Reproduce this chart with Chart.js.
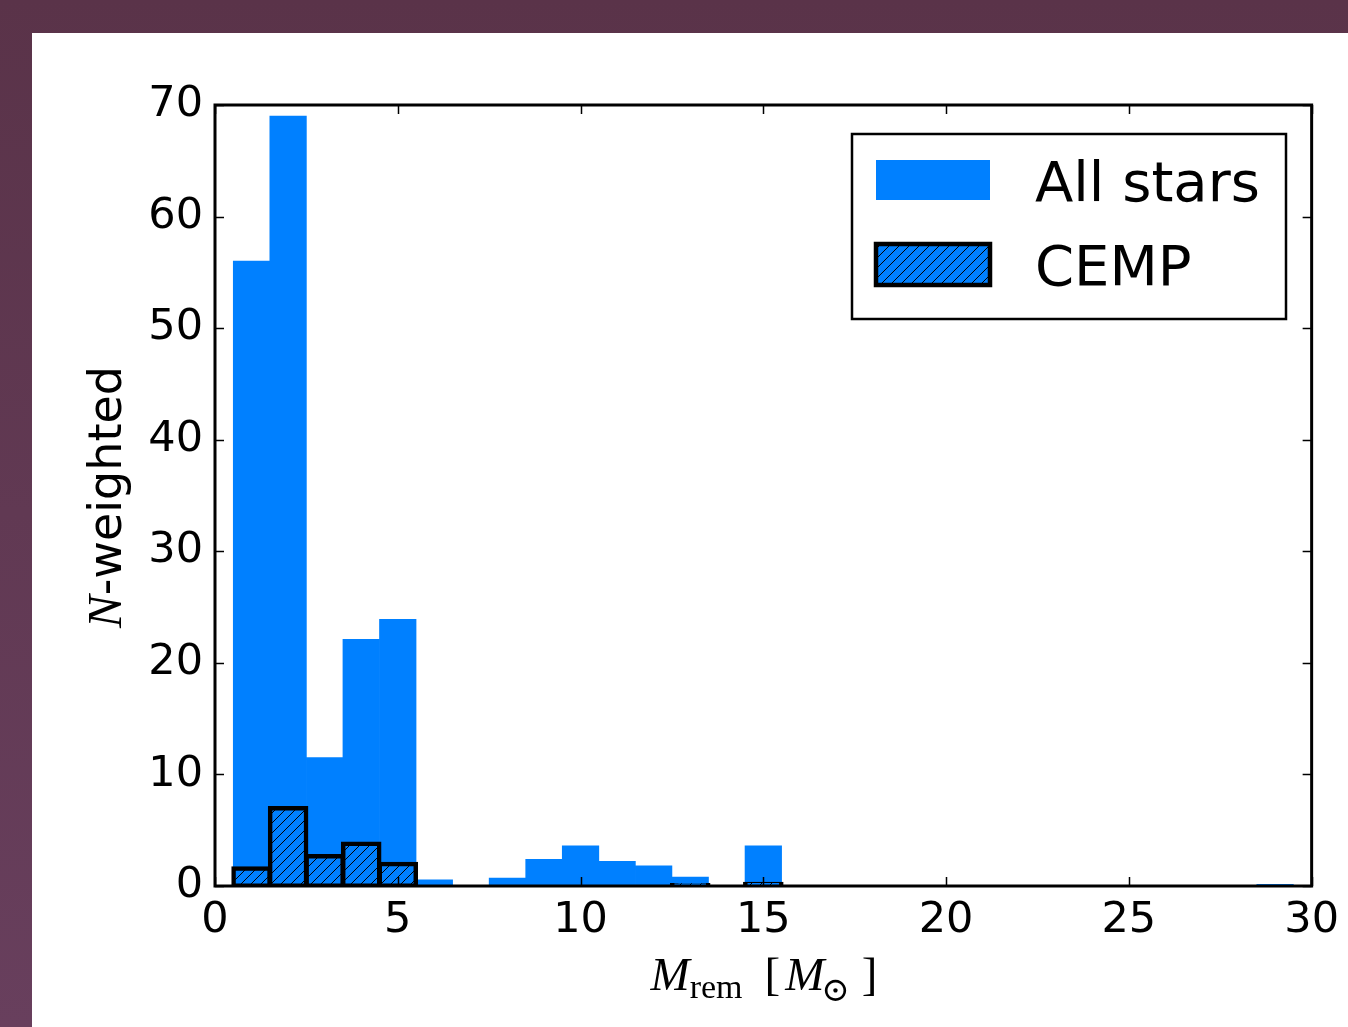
<!DOCTYPE html>
<html lang="en">
<head>
<meta charset="UTF-8" />
<title>Remnant mass distribution</title>
<script src="https://cdn.jsdelivr.net/npm/chart.js"></script>
<style>
  html, body { margin: 0; padding: 0; }
  body {
    width: 1348px;
    height: 1027px;
    overflow: hidden;
    position: relative;
    background: linear-gradient(#5a3349, #683f5d);
  }
  .panel {
    position: absolute;
    left: 32px;
    top: 33px;
    width: 1316px;
    height: 994px;
    background: #fff;
  }
  canvas { display: block; }
</style>
</head>
<body>
<div class="panel"><canvas id="remChart" width="1316" height="994"></canvas></div>
<script>
// bin centres (M_sun), bins are 1 wide
const binCenters = [1, 2, 3, 4, 5, 6, 7, 8, 9, 10, 11, 12, 13, 14, 15,
  16, 17, 18, 19, 20, 21, 22, 23, 24, 25, 26, 27, 28, 29];
const allStars = [56, 69, 11.5, 22.1, 23.9, 0.55, 0, 0.7, 2.4, 3.6, 2.2, 1.8, 0.8, 0, 3.6,
  0, 0, 0, 0, 0, 0, 0, 0, 0, 0, 0, 0, 0, 0.15];
const cemp = [1.6, 7.0, 2.7, 3.8, 2.0, null, null, null, null, null, null, null, 0.1, null, 0.2,
  null, null, null, null, null, null, null, null, null, null, null, null, null, null];
const xTicks = [0, 5, 10, 15, 20, 25, 30];
const yTicks = [0, 10, 20, 30, 40, 50, 60, 70];
const seriesNames = ['All stars', 'CEMP'];

const BLUE = '#0080ff';

// "///" hatch like matplotlib
function makeHatch() {
  const c = document.createElement('canvas');
  c.width = 10; c.height = 10;
  const g = c.getContext('2d');
  g.fillStyle = BLUE;
  g.fillRect(0, 0, 10, 10);
  g.strokeStyle = '#000';
  g.lineWidth = 1;
  g.beginPath();
  g.moveTo(-1, 11); g.lineTo(11, -1);
  g.moveTo(-6, 6); g.lineTo(6, -6);
  g.moveTo(4, 16); g.lineTo(16, 4);
  g.stroke();
  return g.createPattern(c, 'repeat');
}

const ctx = document.getElementById('remChart').getContext('2d');
const hatch = makeHatch();

function drawRuns(c, runs, x, y) {
  runs.forEach(r => {
    c.font = r.font;
    c.fillText(r.t, x + (r.dx || 0), y + (r.dy || 0));
    x += c.measureText(r.t).width + (r.dx || 0) + (r.after || 0);
  });
}
function runsWidth(c, runs) {
  let w = 0;
  runs.forEach(r => { c.font = r.font; w += c.measureText(r.t).width + (r.dx || 0) + (r.after || 0); });
  return w;
}

const decorations = {
  id: 'decorations',
  afterDatasetsDraw(chart) {
    const c = chart.ctx;
    const a = chart.chartArea;
    const xs = chart.scales.x, ys = chart.scales.y;
    c.save();
    c.strokeStyle = '#000';
    c.fillStyle = '#000';

    // inward ticks on all four sides
    c.lineWidth = 1.5;
    c.beginPath();
    xTicks.forEach(v => {
      const px = Math.round(xs.getPixelForValue(v)) + 0.5;
      c.moveTo(px, a.bottom); c.lineTo(px, a.bottom - 9);
      c.moveTo(px, a.top); c.lineTo(px, a.top + 9);
    });
    yTicks.forEach(v => {
      const py = Math.round(ys.getPixelForValue(v)) + 0.5;
      c.moveTo(a.left, py); c.lineTo(a.left + 9, py);
      c.moveTo(a.right, py); c.lineTo(a.right - 9, py);
    });
    c.stroke();

    // frame
    c.lineWidth = 3;
    c.strokeRect(a.left, a.top, a.right - a.left, a.bottom - a.top);

    // legend
    const lx = 820, ly = 101, lw = 434, lh = 185;
    c.fillStyle = '#fff';
    c.fillRect(lx, ly, lw, lh);
    c.lineWidth = 2.5;
    c.strokeRect(lx, ly, lw, lh);
    c.fillStyle = BLUE;
    c.fillRect(844, 127, 114, 40);
    c.fillStyle = hatch;
    c.fillRect(844, 211, 114, 41);
    c.lineWidth = 4.5;
    c.strokeRect(844, 211, 114, 41);
    c.fillStyle = '#000';
    c.font = '56px "DejaVu Sans"';
    c.textBaseline = 'alphabetic';
    c.textAlign = 'left';
    c.fillText(seriesNames[0], 1003, 168);
    c.fillText(seriesNames[1], 1003, 252);

    // x axis title: M_rem [M_sun]
    const xRuns = [
      { t: 'M', font: 'italic 47px "Liberation Serif"' },
      { t: 'rem', font: '34px "Liberation Serif"', dy: 8, after: 22 },
      { t: '[', font: '47px "Liberation Serif"', after: 5 },
      { t: 'M', font: 'italic 47px "Liberation Serif"', after: -3 },
      { t: '\u2299', font: '34px "DejaVu Serif"', dy: 11, after: 12 },
      { t: ']', font: '47px "Liberation Serif"' }
    ];
    const xw = runsWidth(c, xRuns);
    drawRuns(c, xRuns, 732 - xw / 2, 957);

    // y axis title: N-weighted
    c.translate(89, 464);
    c.rotate(-Math.PI / 2);
    const yRuns = [
      { t: 'N', font: 'italic 49px "Liberation Serif"' },
      { t: '-weighted', font: '46px "DejaVu Sans"' }
    ];
    const yw = runsWidth(c, yRuns);
    drawRuns(c, yRuns, -yw / 2, 0);
    c.restore();
  }
};

new Chart(ctx, {
  type: 'bar',
  data: {
    datasets: [
      {
        label: seriesNames[0],
        data: binCenters.map((x, i) => ({ x: x, y: allStars[i] })),
        backgroundColor: BLUE,
        borderWidth: 0,
        barPercentage: 1,
        categoryPercentage: 1,
        grouped: false,
        order: 2
      },
      {
        label: seriesNames[1],
        data: binCenters.map((x, i) => ({ x: x, y: cemp[i] })),
        backgroundColor: hatch,
        borderColor: '#000',
        borderWidth: 4.5,
        borderSkipped: false,
        inflateAmount: 2,
        barPercentage: 1,
        categoryPercentage: 1,
        grouped: false,
        order: 1
      }
    ]
  },
  options: {
    responsive: false,
    animation: false,
    layout: { padding: { left: 0, top: 72, right: 35, bottom: 0 } },
    plugins: {
      legend: { display: false },
      tooltip: { enabled: false }
    },
    scales: {
      x: {
        type: 'linear',
        min: 0,
        max: 30,
        offset: false,
        grid: { display: false, drawTicks: false },
        border: { display: false },
        ticks: {
          stepSize: 5,
          padding: 9,
          maxRotation: 0,
          color: '#000',
          font: { family: 'DejaVu Sans', size: 43 }
        },
        afterFit(scale) { scale.height = 141; }
      },
      y: {
        min: 0,
        max: 70,
        grid: { display: false, drawTicks: false },
        border: { display: false },
        ticks: {
          stepSize: 10,
          padding: 12,
          color: '#000',
          font: { family: 'DejaVu Sans', size: 43 }
        },
        afterFit(scale) { scale.width = 183; }
      }
    }
  },
  plugins: [decorations]
});
</script>
</body>
</html>
